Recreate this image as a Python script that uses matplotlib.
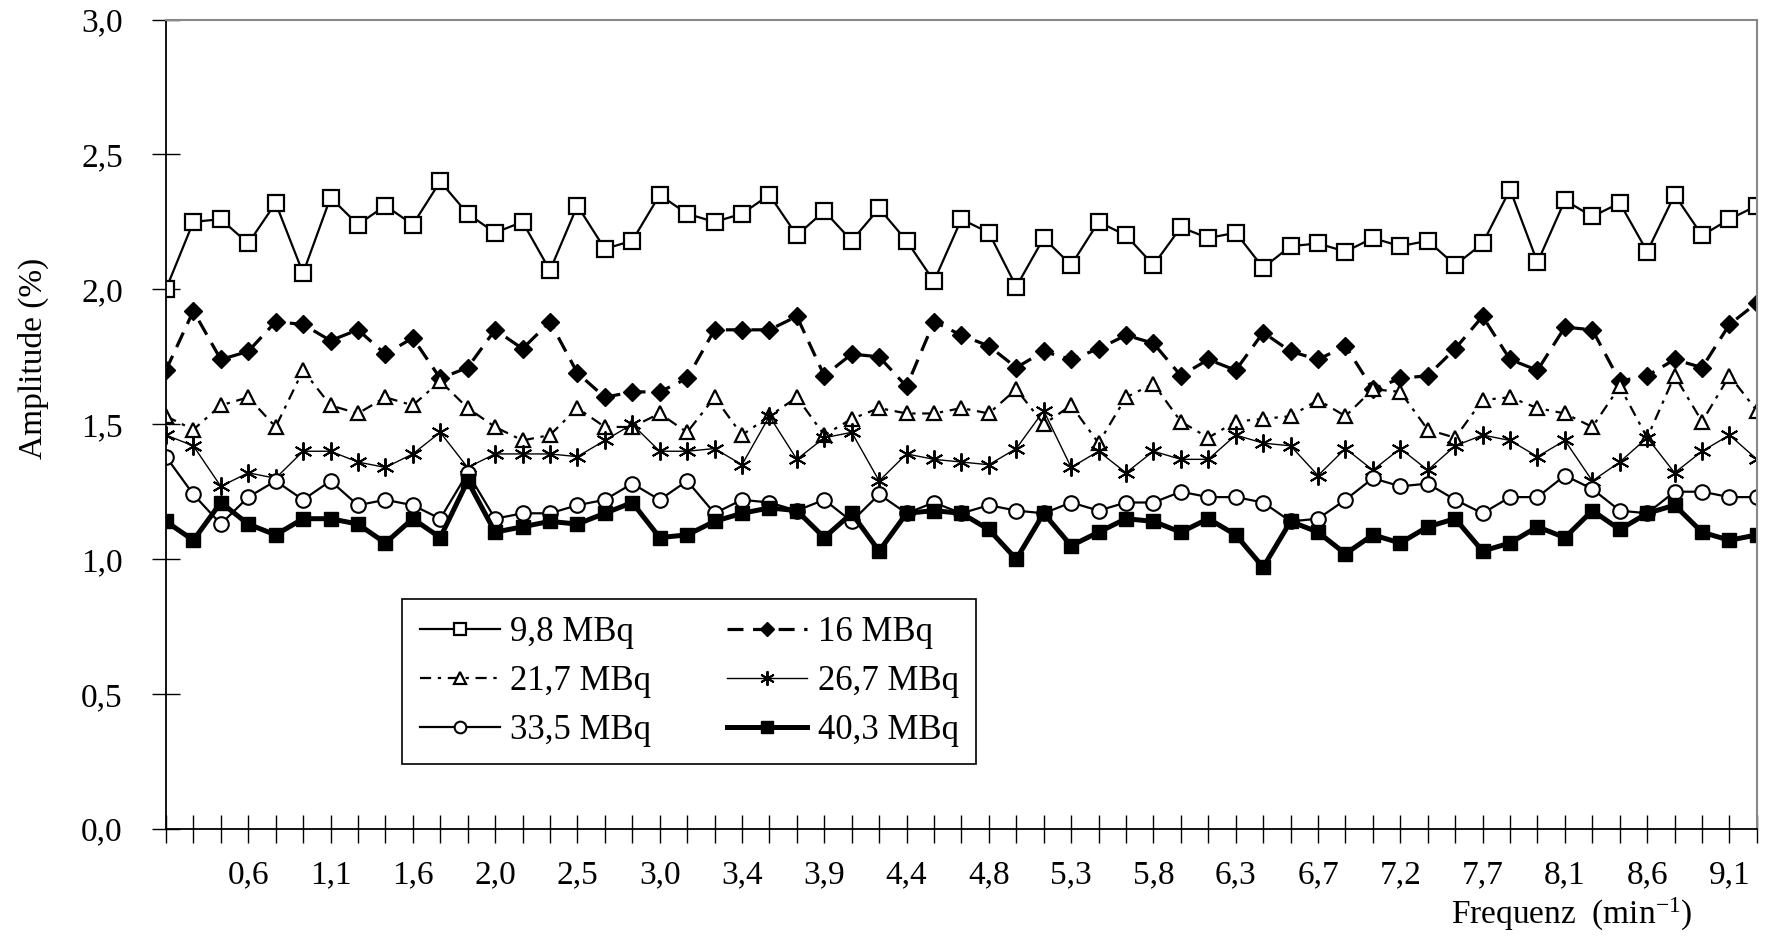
import matplotlib
matplotlib.use("Agg")
import matplotlib.pyplot as plt
import numpy as np
from matplotlib.ticker import FixedLocator, FixedFormatter

plt.rcParams['font.family'] = ['Liberation Serif', 'DejaVu Serif']
plt.rcParams['mathtext.fontset'] = 'custom'
plt.rcParams['mathtext.rm'] = 'Liberation Serif'
plt.rcParams['mathtext.it'] = 'Liberation Serif:italic'

# ---- data ----
n_points = 59
s_9_8 = [2.00, 2.25, 2.26, 2.17, 2.32, 2.06, 2.34, 2.24, 2.31, 2.24, 2.40, 2.28, 2.21, 2.25, 2.07, 2.31, 2.15, 2.18, 2.35, 2.28,
         2.25, 2.28, 2.35, 2.20, 2.29, 2.18, 2.30, 2.18, 2.03, 2.26, 2.21, 2.01, 2.19, 2.09, 2.25, 2.20, 2.09, 2.23, 2.19, 2.21,
         2.08, 2.16, 2.17, 2.14, 2.19, 2.16, 2.18, 2.09, 2.17, 2.37, 2.10, 2.33, 2.27, 2.32, 2.14, 2.35, 2.20, 2.26, 2.31]
s_16 = [1.70, 1.92, 1.74, 1.77, 1.88, 1.87, 1.81, 1.85, 1.76, 1.82, 1.67, 1.71, 1.85, 1.78, 1.88, 1.69, 1.60, 1.62, 1.62, 1.67,
        1.85, 1.85, 1.85, 1.90, 1.68, 1.76, 1.75, 1.64, 1.88, 1.83, 1.79, 1.71, 1.77, 1.74, 1.78, 1.83, 1.80, 1.68, 1.74, 1.70,
        1.84, 1.77, 1.74, 1.79, 1.63, 1.67, 1.68, 1.78, 1.90, 1.74, 1.70, 1.86, 1.85, 1.66, 1.68, 1.74, 1.71, 1.87, 1.95]
s_21_7 = [1.53, 1.48, 1.57, 1.60, 1.49, 1.70, 1.57, 1.54, 1.60, 1.57, 1.66, 1.56, 1.49, 1.44, 1.46, 1.56, 1.49, 1.49, 1.54, 1.47,
          1.60, 1.46, 1.53, 1.60, 1.46, 1.52, 1.56, 1.54, 1.54, 1.56, 1.54, 1.63, 1.50, 1.57, 1.43, 1.60, 1.65, 1.51, 1.45, 1.51,
          1.52, 1.53, 1.59, 1.53, 1.63, 1.62, 1.48, 1.45, 1.59, 1.60, 1.56, 1.54, 1.49, 1.64, 1.45, 1.68, 1.51, 1.68, 1.55]
s_26_7 = [1.46, 1.42, 1.27, 1.32, 1.30, 1.40, 1.40, 1.36, 1.34, 1.39, 1.47, 1.34, 1.39, 1.39, 1.39, 1.38, 1.44, 1.50, 1.40, 1.40,
          1.41, 1.35, 1.53, 1.37, 1.45, 1.47, 1.29, 1.39, 1.37, 1.36, 1.35, 1.41, 1.55, 1.34, 1.40, 1.32, 1.40, 1.37, 1.37, 1.46,
          1.43, 1.42, 1.31, 1.41, 1.33, 1.41, 1.33, 1.42, 1.46, 1.44, 1.38, 1.44, 1.29, 1.36, 1.45, 1.32, 1.40, 1.46, 1.37]
s_33_5 = [1.38, 1.24, 1.13, 1.23, 1.29, 1.22, 1.29, 1.20, 1.22, 1.20, 1.15, 1.32, 1.15, 1.17, 1.17, 1.20, 1.22, 1.28, 1.22, 1.29,
          1.17, 1.22, 1.21, 1.18, 1.22, 1.14, 1.24, 1.17, 1.21, 1.17, 1.20, 1.18, 1.17, 1.21, 1.18, 1.21, 1.21, 1.25, 1.23, 1.23,
          1.21, 1.14, 1.15, 1.22, 1.30, 1.27, 1.28, 1.22, 1.17, 1.23, 1.23, 1.31, 1.26, 1.18, 1.17, 1.25, 1.25, 1.23, 1.23]
s_40_3 = [1.14, 1.07, 1.21, 1.13, 1.09, 1.15, 1.15, 1.13, 1.06, 1.15, 1.08, 1.29, 1.10, 1.12, 1.14, 1.13, 1.17, 1.21, 1.08, 1.09,
          1.14, 1.17, 1.19, 1.18, 1.08, 1.17, 1.03, 1.17, 1.18, 1.17, 1.11, 1.00, 1.17, 1.05, 1.10, 1.15, 1.14, 1.10, 1.15, 1.09,
          0.97, 1.14, 1.10, 1.02, 1.09, 1.06, 1.12, 1.15, 1.03, 1.06, 1.12, 1.08, 1.18, 1.11, 1.17, 1.20, 1.10, 1.07, 1.09]
series_names = ["9,8 MBq", "16 MBq", "21,7 MBq", "26,7 MBq", "33,5 MBq", "40,3 MBq"]
freq_label_idx = list(range(3, 58, 3))
freq_labels = ["0,6", "1,1", "1,6", "2,0", "2,5", "3,0", "3,4", "3,9", "4,4", "4,8",
               "5,3", "5,8", "6,3", "6,7", "7,2", "7,7", "8,1", "8,6", "9,1"]
y_ticks = [0.0, 0.5, 1.0, 1.5, 2.0, 2.5, 3.0]
y_ticklabels = ["0,0", "0,5", "1,0", "1,5", "2,0", "2,5", "3,0"]

x = np.arange(n_points)

fig = plt.figure(figsize=(17.67, 9.38), dpi=100)
ax = fig.add_axes([0.0939, 0.1162, 0.9943 - 0.0939, 0.9792 - 0.1162])

FS = 24
h = {}
h[0], = ax.plot(x, s_9_8, color='black', lw=1.6, marker='s', ms=11, mfc='white', mec='black', mew=1.6)
h[1], = ax.plot(x, s_16, color='black', lw=2.3, dashes=(5, 3), marker='D', ms=9, mfc='black', mec='black')
h[2], = ax.plot(x, s_21_7, color='black', lw=1.6, dashes=(5, 3, 1.5, 3), marker='^', ms=10.5, mfc='white', mec='black', mew=1.6)
h[3], = ax.plot(x, s_26_7, color='black', lw=1.0, marker=(6, 2, 0), ms=13, mec='black', mew=1.4)
h[4], = ax.plot(x, s_33_5, color='black', lw=1.6, marker='o', ms=10.5, mfc='white', mec='black', mew=1.5)
h[5], = ax.plot(x, s_40_3, color='black', lw=3.6, marker='s', ms=10.5, mfc='black', mec='black')

ax.set_xlim(0, n_points - 1)
ax.set_ylim(0, 3.0)

ax.xaxis.set_major_locator(FixedLocator(list(x)))
lab_all = [""] * n_points
for i, t in zip(freq_label_idx, freq_labels):
    lab_all[i] = t
ax.xaxis.set_major_formatter(FixedFormatter(lab_all))
ax.yaxis.set_major_locator(FixedLocator(y_ticks))
ax.yaxis.set_major_formatter(FixedFormatter(y_ticklabels))

ax.tick_params(axis='x', direction='inout', length=20, width=1.0, pad=12, labelsize=FS, colors='black')
ax.tick_params(axis='y', direction='inout', length=20, width=1.0, pad=21, labelsize=FS, colors='black')

for side in ['left', 'bottom']:
    ax.spines[side].set_color('black')
    ax.spines[side].set_linewidth(1.3)
for side in ['top', 'right']:
    ax.spines[side].set_color('#888888')
    ax.spines[side].set_linewidth(1.5)

order = [0, 2, 4, 1, 3, 5]
leg = ax.legend([h[i] for i in order], [series_names[i] for i in order], ncol=2,
                loc='upper left', bbox_to_anchor=(0.1486, 0.284), fontsize=25,
                frameon=True, fancybox=False, edgecolor='black', framealpha=1,
                handlelength=2.3, handletextpad=0.3, columnspacing=2.2,
                labelspacing=0.45, borderpad=0.5, borderaxespad=0, numpoints=1,
                markerscale=0.8)
leg.get_frame().set_linewidth(1.2)

fig.text(33 / 1767, 1 - 358 / 938, "Amplitude (%)", rotation=90, ha='center', va='center', fontsize=FS)
fig.text(1572 / 1767, 1 - 914 / 938, "Frequenz  (min$^{\\mathrm{-1}}$)", ha='center', va='center', fontsize=FS)

fig.savefig("out.png", dpi=100)
